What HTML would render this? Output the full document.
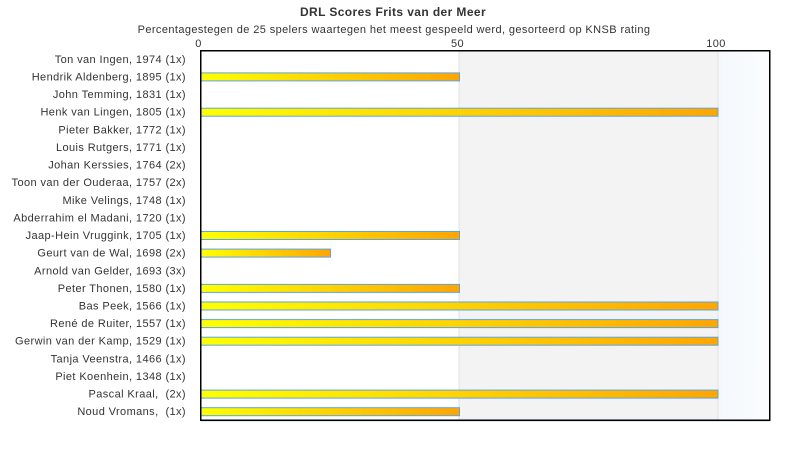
<!DOCTYPE html>
<html><head><meta charset="utf-8"><style>
html,body{margin:0;padding:0;background:#fff;}
svg{display:block;}
text{font-family:"Liberation Sans",Arial,sans-serif;fill:#333;}
</style></head><body>
<svg width="790" height="450" viewBox="0 0 790 450" xmlns="http://www.w3.org/2000/svg">
<defs>
<linearGradient id="bg" x1="0" y1="0" x2="1" y2="0">
<stop offset="0" stop-color="#ffff00"/><stop offset="1" stop-color="#ffa500"/>
</linearGradient>
<linearGradient id="lb" x1="0" y1="0" x2="1" y2="0">
<stop offset="0" stop-color="#f4f8fc"/><stop offset="1" stop-color="#fbfdff"/>
</linearGradient>
</defs>
<text x="393" y="16" text-anchor="middle" font-size="12" font-weight="bold" letter-spacing="0.4">DRL Scores Frits van der Meer</text>
<text x="394" y="33" text-anchor="middle" font-size="11" letter-spacing="0.4">Percentagestegen de 25 spelers waartegen het meest gespeeld werd, gesorteerd op KNSB rating</text>
<text x="198.5" y="47" text-anchor="middle" font-size="11" letter-spacing="0.4">0</text>
<text x="457.5" y="47" text-anchor="middle" font-size="11" letter-spacing="0.4">50</text>
<text x="716" y="47" text-anchor="middle" font-size="11" letter-spacing="0.4">100</text>
<rect x="201" y="50" width="258" height="370" fill="#ffffff"/>
<rect x="459" y="50" width="259" height="370" fill="#f3f3f3"/>
<rect x="718" y="50" width="52" height="370" fill="url(#lb)"/>
<line x1="459" y1="50" x2="459" y2="420" stroke="#e2e2e2" stroke-width="1"/>
<line x1="718" y1="50" x2="718" y2="420" stroke="#e2e2e2" stroke-width="1"/>
<g font-size="11" text-anchor="end" letter-spacing="0.4">
<text x="186" y="62.8">Ton van Ingen, 1974 (1x)</text>
<text x="186" y="80.4">Hendrik Aldenberg, 1895 (1x)</text>
<text x="186" y="98.1">John Temming, 1831 (1x)</text>
<text x="186" y="115.7">Henk van Lingen, 1805 (1x)</text>
<text x="186" y="133.3">Pieter Bakker, 1772 (1x)</text>
<text x="186" y="150.9">Louis Rutgers, 1771 (1x)</text>
<text x="186" y="168.6">Johan Kerssies, 1764 (2x)</text>
<text x="186" y="186.2">Toon van der Ouderaa, 1757 (2x)</text>
<text x="186" y="203.8">Mike Velings, 1748 (1x)</text>
<text x="186" y="221.4">Abderrahim el Madani, 1720 (1x)</text>
<text x="186" y="239.0">Jaap-Hein Vruggink, 1705 (1x)</text>
<text x="186" y="256.6">Geurt van de Wal, 1698 (2x)</text>
<text x="186" y="274.3">Arnold van Gelder, 1693 (3x)</text>
<text x="186" y="291.9">Peter Thonen, 1580 (1x)</text>
<text x="186" y="309.5">Bas Peek, 1566 (1x)</text>
<text x="186" y="327.1">René de Ruiter, 1557 (1x)</text>
<text x="186" y="344.7">Gerwin van der Kamp, 1529 (1x)</text>
<text x="186" y="362.4">Tanja Veenstra, 1466 (1x)</text>
<text x="186" y="380.0">Piet Koenhein, 1348 (1x)</text>
<text x="186" y="397.6" xml:space="preserve">Pascal Kraal,  (2x)</text>
<text x="186" y="415.2" xml:space="preserve">Noud Vromans,  (1x)</text>
</g>
<g fill="url(#bg)" stroke="#5aa5e8" stroke-width="1">
<rect x="201" y="72.9" width="258.5" height="8"/>
<rect x="201" y="108.2" width="517" height="8"/>
<rect x="201" y="231.5" width="258.5" height="8"/>
<rect x="201" y="249.1" width="129.5" height="8"/>
<rect x="201" y="284.4" width="258.5" height="8"/>
<rect x="201" y="302.0" width="517" height="8"/>
<rect x="201" y="319.6" width="517" height="8"/>
<rect x="201" y="337.2" width="517" height="8"/>
<rect x="201" y="390.1" width="517" height="8"/>
<rect x="201" y="407.7" width="258.5" height="8"/>
</g>
<line x1="201" y1="421.5" x2="770" y2="421.5" stroke="#dbe9f5" stroke-width="1"/>
<rect x="200.75" y="50.75" width="569" height="369.5" fill="none" stroke="#000" stroke-width="1.5"/>
</svg>
</body></html>
